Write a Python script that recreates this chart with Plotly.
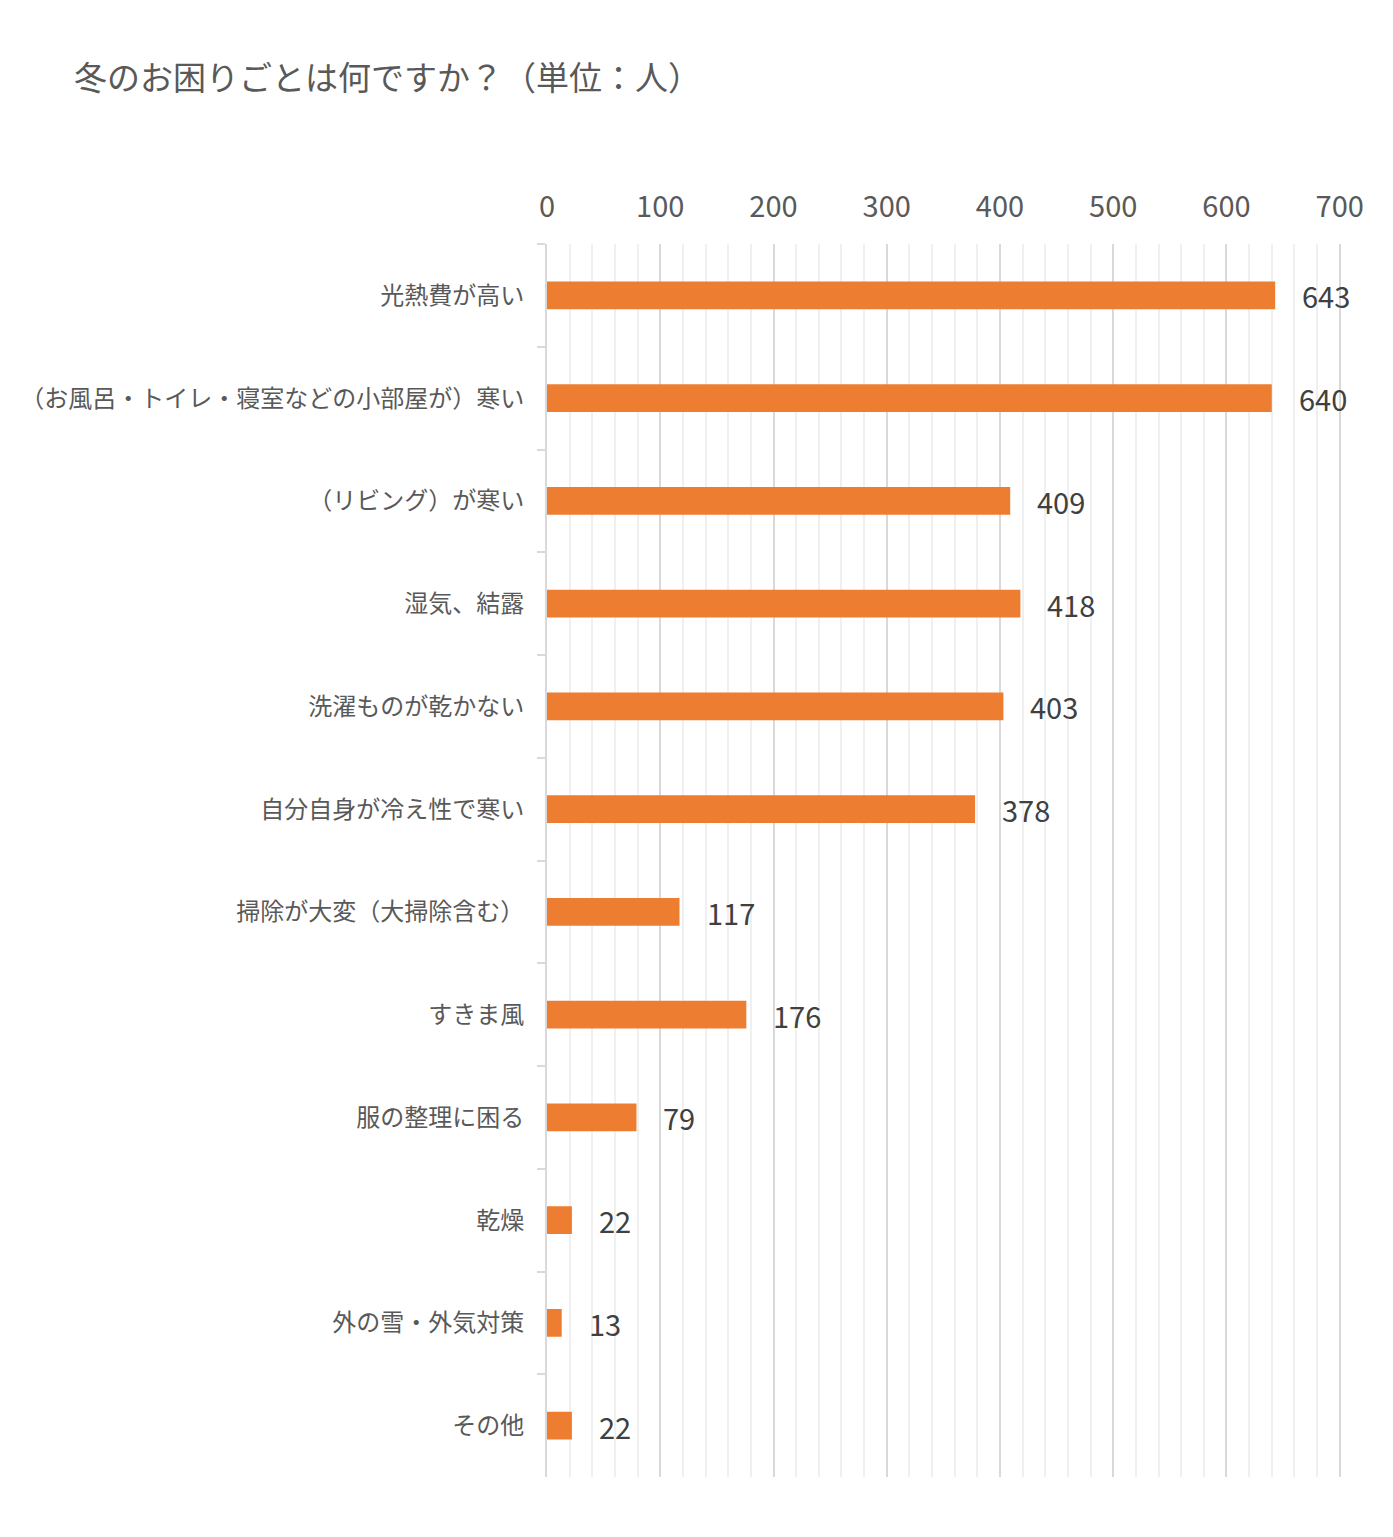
import plotly.graph_objects as go

categories = [
    "光熱費が高い",
    "（お風呂・トイレ・寝室などの小部屋が）寒い",
    "（リビング）が寒い",
    "湿気、結露",
    "洗濯ものが乾かない",
    "自分自身が冷え性で寒い",
    "掃除が大変（大掃除含む）",
    "すきま風",
    "服の整理に困る",
    "乾燥",
    "外の雪・外気対策",
    "その他",
]
values = [643, 640, 409, 418, 403, 378, 117, 176, 79, 22, 13, 22]
x_ticks = [0, 100, 200, 300, 400, 500, 600, 700]

FONT = "Noto Sans CJK JP, Noto Sans, sans-serif"

fig = go.Figure()
fig.add_trace(go.Bar(
    y=categories, x=values, orientation="h",
    marker=dict(color="#ED7D31", line=dict(width=0)),
    width=0.27, hoverinfo="x+y",
))

for c, v in zip(categories, values):
    fig.add_annotation(x=v, y=c, text=str(v), showarrow=False,
                       xanchor="left", yanchor="middle", xshift=25,
                       font=dict(family=FONT, size=29, color="#404040"))

fig.update_layout(
    width=1393, height=1537,
    paper_bgcolor="white", plot_bgcolor="white",
    margin=dict(l=532, r=59, t=236, b=68),
    showlegend=False,
    title=dict(text="冬のお困りごとは何ですか？（単位：人）",
               x=66 / 1393, xref="container", xanchor="left",
               y=1 - 70 / 1537, yref="container", yanchor="middle",
               font=dict(family=FONT, size=33, color="#595959")),
    font=dict(family=FONT, color="#595959"),
    xaxis=dict(
        side="top", range=[0, 702], tickvals=x_ticks,
        ticktext=[str(t) for t in x_ticks],
        tickfont=dict(family=FONT, size=29, color="#595959"),
        showgrid=True, gridcolor="#d9d9d9", gridwidth=2,
        minor=dict(dtick=20, tick0=0, showgrid=True, gridcolor="#f0f0f0", gridwidth=2),
        zeroline=False, showline=False, ticks="", ticklabelstandoff=20,
    ),
    yaxis=dict(
        autorange="reversed", showline=True, linecolor="#d9d9d9", linewidth=2,
        ticks="outside", tickson="boundaries", ticklen=8, tickcolor="#d9d9d9",
        tickwidth=2, showgrid=False, ticklabelstandoff=16,
        tickfont=dict(family=FONT, size=24, color="#595959"),
    ),
    bargap=0.73,
)

fig.write_html("out.html")
